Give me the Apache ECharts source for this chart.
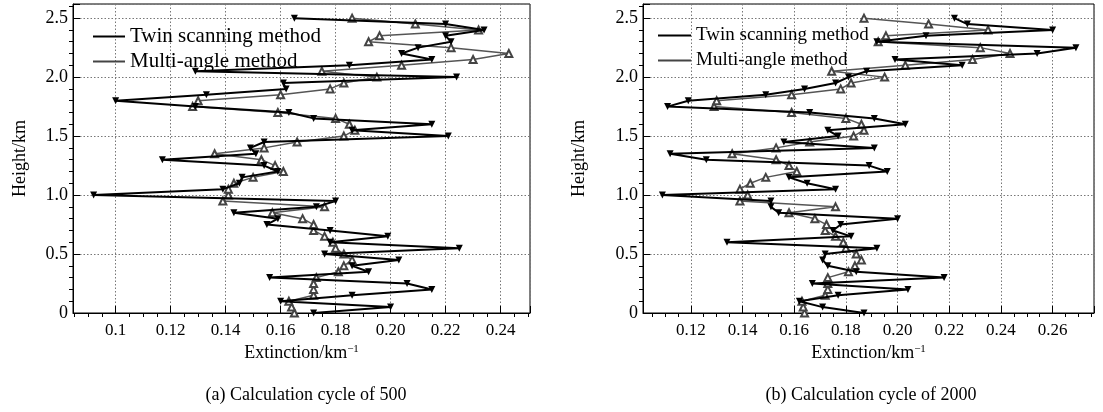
<!DOCTYPE html>
<html>
<head>
<meta charset="utf-8">
<script src="https://cdn.jsdelivr.net/npm/echarts@6/dist/echarts.min.js"></script>
<style>
html,body{margin:0;padding:0;background:#fff;}
#c{width:1103px;height:412px;}
</style>
</head>
<body>
<div id="c"></div>
<script>
// Heights (km)
const heights = [0,0.05,0.10,0.15,0.20,0.25,0.30,0.35,0.40,0.45,0.50,0.55,0.60,0.65,0.70,0.75,0.80,0.85,0.90,0.95,
  1.00,1.05,1.10,1.15,1.20,1.25,1.30,1.35,1.40,1.45,1.50,1.55,1.60,1.65,1.70,1.75,1.80,1.85,1.90,1.95,
  2.00,2.05,2.10,2.15,2.20,2.25,2.30,2.35,2.40,2.45,2.50];

// (a) Calculation cycle of 500
const twinA = [0.172,0.200,0.160,0.186,0.215,0.206,0.156,0.192,0.186,0.203,0.176,0.225,0.178,0.199,0.178,0.155,0.159,0.143,0.173,0.180,
  0.092,0.139,0.145,0.146,0.159,0.154,0.117,0.151,0.149,0.154,0.221,0.186,0.215,0.172,0.163,0.129,0.100,0.133,0.162,0.161,
  0.224,0.129,0.185,0.215,0.204,0.210,0.222,0.220,0.234,0.220,0.165];
const multiA = [0.165,0.164,0.163,0.172,0.172,0.172,0.173,0.181,0.183,0.186,0.183,0.180,0.179,0.176,0.172,0.172,0.168,0.157,0.176,0.139,
  0.141,0.141,0.143,0.150,0.161,0.158,0.153,0.136,0.154,0.166,0.183,0.187,0.185,0.180,0.159,0.128,0.130,0.160,0.178,0.183,
  0.195,0.175,0.204,0.230,0.243,0.222,0.192,0.196,0.232,0.209,0.186];

// (b) Calculation cycle of 2000
const twinB = [0.187,0.171,0.162,0.177,0.204,0.167,0.218,0.184,0.173,0.171,0.172,0.192,0.134,0.182,0.175,0.178,0.200,0.154,0.151,0.151,
  0.109,0.176,0.165,0.158,0.196,0.189,0.126,0.112,0.191,0.156,0.177,0.173,0.203,0.191,0.166,0.111,0.119,0.149,0.164,0.176,
  0.181,0.188,0.225,0.199,0.254,0.269,0.192,0.211,0.260,0.227,0.222];
const multiB = [0.164,0.1635,0.163,0.172,0.173,0.173,0.173,0.181,0.1835,0.186,0.184,0.180,0.179,0.176,0.172,0.1725,0.168,0.158,0.176,0.139,
  0.142,0.139,0.143,0.149,0.161,0.158,0.153,0.136,0.153,0.166,0.183,0.187,0.186,0.180,0.159,0.129,0.130,0.159,0.178,0.182,
  0.195,0.1745,0.203,0.229,0.2435,0.232,0.1925,0.1955,0.235,0.212,0.187];

const seriesNames = ['Twin scanning method', 'Multi-angle method'];
const yTickLabels = ['0','0.5','1.0','1.5','2.0','2.5'];
const xTickLabelsA = ['0.1','0.12','0.14','0.16','0.18','0.20','0.22','0.24'];
const xTickLabelsB = ['0.12','0.14','0.16','0.18','0.20','0.22','0.24','0.26'];
const captions = ['(a) Calculation cycle of 500', '(b) Calculation cycle of 2000'];

const FONT = 'Liberation Serif';

function pairs(vals){ return vals.map((v,i)=>[v, heights[i]]); }
function xFmt(labels){
  return function(v){
    for (const l of labels){ if (Math.abs(parseFloat(l) - v) < 1e-6) return l; }
    return '';
  };
}
function yFmt(v){
  for (const l of yTickLabels){ if (Math.abs(parseFloat(l) - v) < 1e-6) return l; }
  return '';
}

function xAxisCfg(grid, min, max, split, labels){
  return {
    gridIndex: grid, type: 'value', min: min, max: max, splitNumber: split,
    axisLine: {show: true, onZero: false, lineStyle: {color: '#000', width: 1}},
    axisTick: {show: true, inside: true, length: 7, lineStyle: {color: '#000'}},
    minorTick: {show: true, splitNumber: 4, length: -4, lineStyle: {color: '#000', width: 1}},
    axisLabel: {color: '#000', fontFamily: FONT, fontSize: 17, margin: 9, showMinLabel: false, showMaxLabel: false, formatter: xFmt(labels)},
    splitLine: {show: true, lineStyle: {color: '#777', type: [1.5, 2], width: 1}},
    name: 'Extinction/km{sup|\u22121}', nameLocation: 'middle', nameGap: 30,
    nameTextStyle: {color: '#000', fontFamily: FONT, fontSize: 18,
      rich: {sup: {fontFamily: FONT, fontSize: 11, verticalAlign: 'top', padding: [0,0,8,0], color: '#000'}}}
  };
}
function yAxisCfg(grid, gap){
  return {
    gridIndex: grid, type: 'value', min: 0, max: 2.62, interval: 0.5,
    axisLine: {show: true, onZero: false, lineStyle: {color: '#000', width: 1}},
    axisTick: {show: true, inside: true, length: 7, lineStyle: {color: '#000'}},
    minorTick: {show: true, splitNumber: 5, length: -4, lineStyle: {color: '#000', width: 1}},
    axisLabel: {color: '#000', fontFamily: FONT, fontSize: 18, margin: 5, showMaxLabel: false, formatter: yFmt},
    splitLine: {show: true, lineStyle: {color: '#777', type: [1.5, 2], width: 1}},
    name: 'Height/km', nameLocation: 'middle', nameGap: gap, nameRotate: 90,
    nameTextStyle: {color: '#000', fontFamily: FONT, fontSize: 18}
  };
}
function twin(name, x, data){
  return {type: 'line', name: name, xAxisIndex: x, yAxisIndex: x, data: pairs(data),
    symbol: 'triangle', symbolRotate: 180, symbolSize: 7, z: 4,
    lineStyle: {color: '#000', width: 2}, itemStyle: {color: '#000'}};
}
function multi(name, x, data){
  return {type: 'line', name: name, xAxisIndex: x, yAxisIndex: x, data: pairs(data),
    symbol: 'emptyTriangle', symbolSize: 7, z: 3,
    lineStyle: {color: '#555', width: 1.5}, itemStyle: {color: '#444', borderColor: '#333', borderWidth: 1}};
}

const chart = echarts.init(document.getElementById('c'), null, {renderer: 'canvas'});
chart.setOption({
  animation: false,
  backgroundColor: '#fff',
  grid: [
    {left: 73, top: 4, width: 457, height: 309, show: true, borderColor: '#000', borderWidth: 1, containLabel: false},
    {left: 643, top: 4, width: 451, height: 309, show: true, borderColor: '#000', borderWidth: 1, containLabel: false}
  ],
  xAxis: [
    xAxisCfg(0, 0.0845, 0.2507, 8, xTickLabelsA),
    xAxisCfg(1, 0.1015, 0.276, 9, xTickLabelsB)
  ],
  yAxis: [yAxisCfg(0, 44), yAxisCfg(1, 55)],
  legend: [
    {left: 88, top: 21, orient: 'vertical', itemWidth: 32, itemHeight: 2, itemGap: 4, icon: 'rect',
      itemStyle: {borderWidth: 0}, data: seriesNames, textStyle: {fontFamily: FONT, fontSize: 21, color: '#000'}},
    {left: 653, top: 21, orient: 'vertical', itemWidth: 33, itemHeight: 2, itemGap: 6, icon: 'rect', itemTextGap: 2,
      itemStyle: {borderWidth: 0}, data: seriesNames, textStyle: {fontFamily: FONT, fontSize: 19, color: '#000'}}
  ],
  title: [
    {text: captions[0], left: 301, top: 381, textAlign: 'center', textStyle: {fontFamily: FONT, fontSize: 18, fontWeight: 'normal', color: '#000'}},
    {text: captions[1], left: 866, top: 381, textAlign: 'center', textStyle: {fontFamily: FONT, fontSize: 18, fontWeight: 'normal', color: '#000'}}
  ],
  series: [
    twin(seriesNames[0], 0, twinA),
    multi(seriesNames[1], 0, multiA),
    twin(seriesNames[0], 1, twinB),
    multi(seriesNames[1], 1, multiB)
  ]
});
</script>
</body>
</html>
